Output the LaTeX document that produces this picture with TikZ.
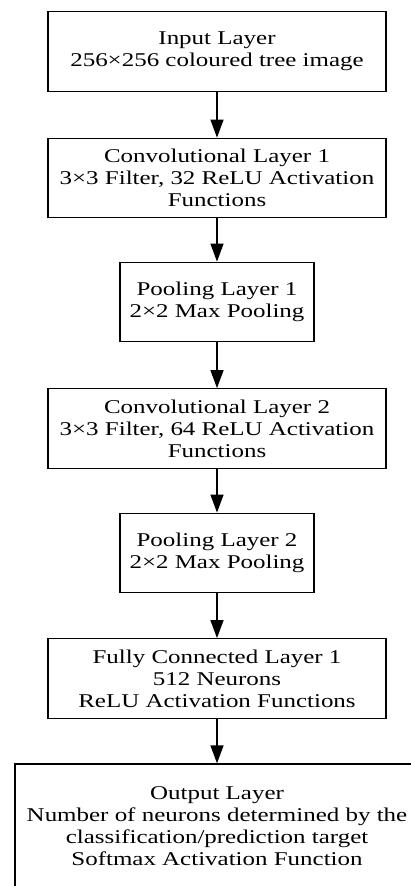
\documentclass[tikz,border=0pt]{standalone}
\usepackage{fontspec}
\usetikzlibrary{arrows.meta}
% widened Times-metric serif for the layer captions
\newfontfamily\layfont{Liberation Serif}[FakeStretch=1.28]
\tikzset{
  layer/.style={draw, line width=1.3pt, inner sep=0pt, align=center,
    font=\layfont\fontsize{19.5}{22}\selectfont},
  wide/.style={layer, minimum width=338pt, minimum height=79.5pt},
  narrow/.style={layer, minimum width=194pt, minimum height=79.5pt},
  flow/.style={line width=1.3pt, -{Triangle[width=13pt,length=18pt]}}
}
\begin{document}
\begin{tikzpicture}[x=1pt, y=-1pt]
  \useasboundingbox (0,0) rectangle (411,886);
  \clip (0,0) rectangle (411,886);
  \fill[white] (0,0) rectangle (411,886);

  \node[wide]   (inp) at (217,51.5)  {Input Layer\\256×256 coloured tree image};
  \node[wide]   (c1)  at (217,178)   {Convolutional Layer 1\\3×3 Filter, 32 ReLU Activation\\Functions};
  \node[narrow] (p1)  at (217,302)   {Pooling Layer 1\\2×2 Max Pooling};
  \node[wide]   (c2)  at (217,428.5) {Convolutional Layer 2\\3×3 Filter, 64 ReLU Activation\\Functions};
  \node[narrow] (p2)  at (217,553)   {Pooling Layer 2\\2×2 Max Pooling};
  \node[wide]   (fc)  at (217,678.5) {Fully Connected Layer 1\\512 Neurons\\ReLU Activation Functions};
  \node[layer, minimum width=404pt, minimum height=124pt] (out) at (217,826)
    {Output Layer\\Number of neurons determined by the\\classification/prediction target\\Softmax Activation Function};

  \draw[flow] (inp) -- (c1);
  \draw[flow] (c1) -- (p1);
  \draw[flow] (p1) -- (c2);
  \draw[flow] (c2) -- (p2);
  \draw[flow] (p2) -- (fc);
  \draw[flow] (fc) -- (out);
\end{tikzpicture}
\end{document}
